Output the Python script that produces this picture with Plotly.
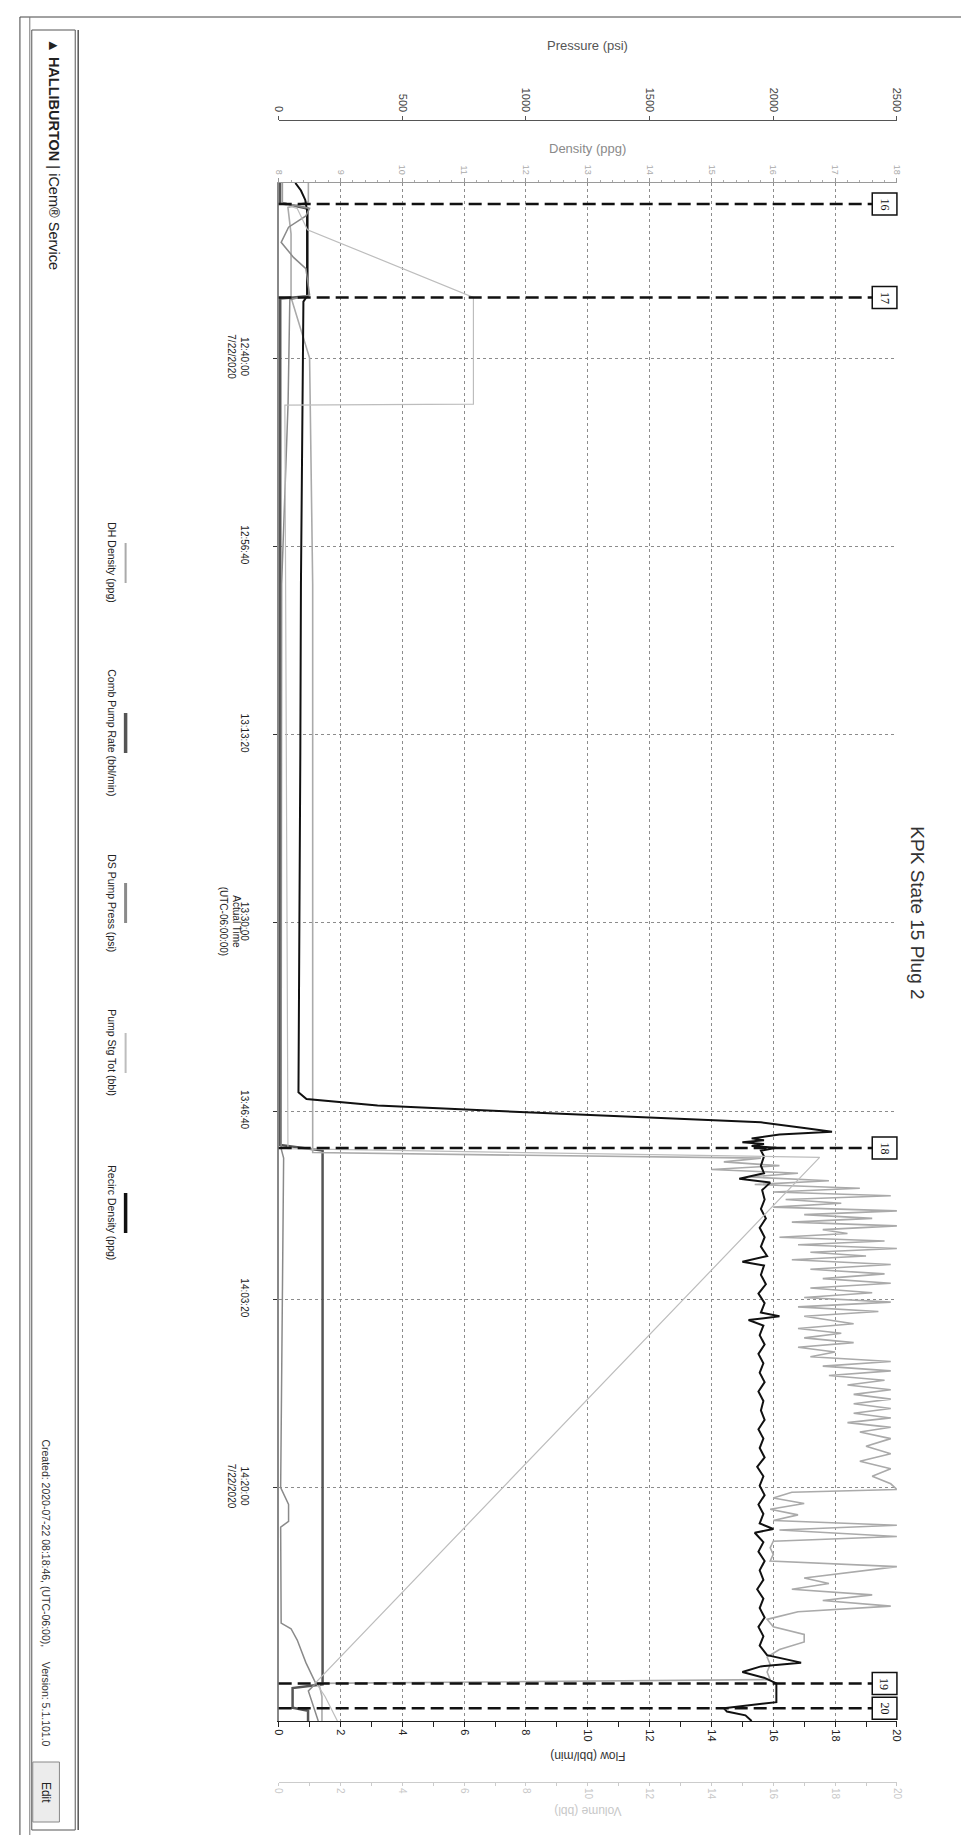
import plotly.graph_objects as go

W, H = 969, 1835
DATE = "2020-07-22 "

# ---------------- data ----------------
time_tick_vals = ["12:40:00", "12:56:40", "13:13:20", "13:30:00", "13:46:40", "14:03:20", "14:20:00"]
time_tick_text = ["12:40:00<br>7/22/2020", "12:56:40", "13:13:20", "13:30:00", "13:46:40", "14:03:20", "14:20:00<br>7/22/2020"]
time_start = "12:24:30"
time_end = "14:40:40"

pressure_ticks = [0, 500, 1000, 1500, 2000, 2500]
density_ticks = [8, 9, 10, 11, 12, 13, 14, 15, 16, 17, 18]
flow_ticks = [0, 2, 4, 6, 8, 10, 12, 14, 16, 18, 20]
volume_ticks = [0, 2, 4, 6, 8, 10, 12, 14, 16, 18, 20]

event_labels = ["16", "17", "18", "19", "20"]
event_times = ["12:26:22", "12:34:38", "13:49:56", "14:37:21", "14:39:32"]

# Recirc Density (ppg) - black
recirc_t = ["12:24:30", "12:25:10", "12:26:00", "12:27:00", "12:30:00", "12:34:30", "12:35:00", "12:45:00",
            "13:00:00", "13:15:00", "13:30:00", "13:40:00", "13:45:00", "13:45:36", "13:46:10", "13:46:45",
            "13:47:15", "13:47:40", "13:48:10", "13:48:30", "13:48:45", "13:48:55", "13:49:05", "13:49:15",
            "13:49:25", "13:49:35", "13:49:45", "13:49:55", "13:50:10", "13:50:40", "13:51:30", "13:52:10",
            "13:52:40", "13:53:00", "13:53:40", "13:54:30", "13:55:20", "13:56:10", "13:57:00", "13:57:50",
            "13:58:40", "13:59:30", "14:00:00", "14:00:20", "14:01:10", "14:02:00", "14:02:50", "14:03:40",
            "14:04:30", "14:04:50", "14:05:10", "14:05:40", "14:06:30", "14:07:20", "14:08:10", "14:09:00",
            "14:09:50", "14:10:40", "14:11:30", "14:12:20", "14:13:10", "14:14:00", "14:14:50", "14:15:40",
            "14:16:30", "14:17:20", "14:18:10", "14:19:00", "14:19:50", "14:20:40", "14:21:30", "14:22:20",
            "14:23:10", "14:23:40", "14:24:00", "14:24:50", "14:25:40", "14:26:30", "14:27:20", "14:28:10",
            "14:29:00", "14:29:50", "14:30:40", "14:31:30", "14:32:20", "14:33:10", "14:34:00", "14:34:50",
            "14:35:30", "14:35:50", "14:36:20", "14:36:50", "14:37:20", "14:38:00", "14:39:00", "14:39:32",
            "14:39:50", "14:40:10", "14:40:40"]
recirc_v = [8.27, 8.36, 8.43, 8.46, 8.46, 8.46, 8.40, 8.38,
            8.36, 8.35, 8.33, 8.32, 8.32, 8.45, 9.6, 11.9,
            14.1, 15.8, 16.5, 16.95, 16.1, 15.85, 15.65, 15.85,
            15.5, 15.85, 15.65, 16.05, 15.8, 15.85, 15.8, 15.85,
            15.45, 15.95, 15.82, 15.86, 15.8, 15.88, 15.78, 15.86,
            15.8, 15.9, 15.5, 15.85, 15.8, 15.88, 15.76, 15.86,
            15.8, 16.1, 15.6, 15.84, 15.78, 15.86, 15.76, 15.84,
            15.78, 15.86, 15.76, 15.84, 15.8, 15.86, 15.76, 15.84,
            15.78, 15.86, 15.74, 15.84, 15.78, 15.86, 15.76, 15.84,
            15.78, 16.0, 15.7, 15.84, 15.76, 15.86, 15.78, 15.84,
            15.74, 15.84, 15.78, 15.86, 15.76, 15.84, 15.78, 15.9,
            16.45, 15.8, 15.5, 15.85, 16.05, 16.05, 16.05, 15.2,
            15.25, 15.55, 15.65]

# DH Density (ppg) - light gray
dh_t = ["12:24:30", "12:26:10", "12:26:40", "12:29:00", "12:34:38", "12:40:00", "13:00:00", "13:50:20",
        "13:50:35", "13:50:50", "13:51:10", "13:51:30", "13:51:50", "13:52:10", "13:52:30", "13:52:50",
        "13:53:10", "13:53:30", "13:53:50", "13:54:10", "13:54:30", "13:54:50", "13:55:10", "13:55:30",
        "13:55:50", "13:56:10", "13:56:30", "13:56:50", "13:57:10", "13:57:30", "13:57:50", "13:58:10",
        "13:58:30", "13:58:50", "13:59:10", "13:59:30", "13:59:50", "14:00:15", "14:00:40", "14:01:05",
        "14:01:30", "14:01:55", "14:02:20", "14:02:45", "14:03:10", "14:03:35", "14:04:00", "14:04:25",
        "14:04:50", "14:05:30", "14:05:55", "14:06:20", "14:06:45", "14:07:10", "14:07:35", "14:08:00",
        "14:08:25", "14:08:50", "14:09:15", "14:09:40", "14:10:05", "14:10:30", "14:10:55", "14:11:20",
        "14:11:45", "14:12:10", "14:12:35", "14:13:00", "14:13:25", "14:13:50", "14:14:15", "14:14:40",
        "14:15:05", "14:15:40", "14:16:20", "14:17:00", "14:17:40", "14:18:20", "14:19:00", "14:19:40",
        "14:20:10", "14:20:25", "14:20:55", "14:21:25", "14:21:55", "14:22:25", "14:22:55", "14:23:20",
        "14:23:45", "14:24:20", "14:24:45", "14:25:20", "14:25:55", "14:26:30", "14:27:00", "14:27:30",
        "14:28:00", "14:28:30", "14:29:00", "14:29:30", "14:30:00", "14:30:30", "14:31:00", "14:31:40",
        "14:32:20", "14:33:00", "14:33:40", "14:34:20", "14:35:00", "14:35:40", "14:36:20", "14:37:00",
        "14:37:20", "14:38:30", "14:40:40"]
dh_v = [8.48, 8.48, 8.15, 8.2, 8.2, 8.5, 8.55, 8.55,
        12.0, 15.8, 15.2, 16.1, 15.0, 16.4, 15.6, 16.9,
        15.7, 17.4, 16.0, 17.9, 16.2, 17.1, 16.0, 18.0,
        16.5, 17.6, 16.3, 18.0, 16.8, 17.2, 16.1, 17.8,
        16.4, 18.0, 16.6, 17.5, 16.3, 17.9, 16.6, 17.8,
        16.8, 17.9, 16.6, 17.6, 16.5, 17.9, 16.4, 17.7,
        16.5, 17.3, 16.4, 17.1, 16.5, 17.3, 16.4, 17.0,
        16.6, 17.9, 16.8, 17.9, 16.9, 17.8, 17.2, 17.9,
        17.3, 17.9, 17.3, 17.9, 17.3, 17.9, 17.2, 17.9,
        17.4, 17.9, 17.5, 17.9, 17.4, 17.9, 17.6, 17.9,
        18.0, 16.3, 16.0, 16.5, 15.95, 16.4, 16.0, 18.0,
        16.1, 18.0, 16.0, 15.95, 16.0, 15.95, 18.0, 17.2,
        16.5, 16.9, 16.3, 17.6, 16.8, 17.9, 16.4, 15.9,
        16.0, 16.5, 16.5, 16.1, 15.9, 15.95, 15.9, 15.95,
        8.65, 8.7, 8.7]

# Pump Stg Tot (bbl) - light gray, volume axis
stg_t = ["12:24:30", "12:26:22", "12:26:45", "12:28:38", "12:34:38", "12:44:05", "12:44:10", "13:50:00",
         "13:50:46", "14:37:16", "14:38:30", "14:40:40"]
stg_v = [0.1, 0.1, 0.6, 0.93, 6.3, 6.3, 0.2, 0.3,
         17.5, 1.2, 1.5, 1.9]

# DS Pump Press (psi) - gray, pressure axis
ds_t = ["12:24:30", "12:26:15", "12:26:45", "12:27:25", "12:28:25", "12:29:45", "12:31:05", "12:32:05",
        "12:34:25", "12:34:50", "12:44:00", "13:00:00", "13:50:00", "13:50:50", "14:20:00", "14:21:30",
        "14:23:00", "14:23:30", "14:32:00", "14:32:30", "14:33:30", "14:35:30", "14:37:20", "14:38:00",
        "14:40:40"]
ds_v = [15, 15, 125, 110, 40, 10, 60, 110,
        125, 45, 38, 12, 10, 20, 8, 40,
        40, 8, 10, 50, 75, 110, 150, 120,
        160]

# Comb Pump Rate (bbl/min) - dark gray, flow axis
rate_t = ["12:24:30", "12:26:15", "12:26:45", "12:34:32", "12:34:44", "13:49:40", "13:50:10", "14:37:25",
          "14:37:45", "14:39:30", "14:39:45", "14:40:40"]
rate_v = [0.05, 0.05, 0.93, 0.93, 0.05, 0.05, 1.42, 1.42,
          0.45, 0.45, 0.95, 0.95]

legend_names = ["DH Density (ppg)", "Comb Pump Rate (bbl/min)", "DS Pump Press (psi)",
                "Pump Stg Tot (bbl)", "Recirc Density (ppg)"]
legend_colors = ["#aaaaaa", "#555555", "#8a8a8a", "#bdbdbd", "#111111"]
legend_widths = [2, 3.5, 3, 2, 3.5]

# ---------------- helpers ----------------
def T(lst):
    return [DATE + t for t in lst]

def px(x):
    return x / W

def py(y):
    return 1 - y / H

X0, X1 = 268, 894
Y0, Y1 = 175, 1713
dom_x = [px(X0), px(X1)]
dom_y = [py(Y1), py(Y0)]

FONT = "Liberation Sans, Arial, sans-serif"

fig = go.Figure()

fig.add_trace(go.Scatter(x=stg_v, y=T(stg_t), xaxis="x4", yaxis="y", mode="lines",
                         line=dict(color=legend_colors[3], width=1.2), name=legend_names[3]))
fig.add_trace(go.Scatter(x=dh_v, y=T(dh_t), xaxis="x2", yaxis="y", mode="lines",
                         line=dict(color=legend_colors[0], width=1.6), name=legend_names[0]))
fig.add_trace(go.Scatter(x=ds_v, y=T(ds_t), xaxis="x3", yaxis="y", mode="lines",
                         line=dict(color=legend_colors[2], width=1.5), name=legend_names[2]))
fig.add_trace(go.Scatter(x=rate_v, y=T(rate_t), xaxis="x", yaxis="y", mode="lines",
                         line=dict(color=legend_colors[1], width=2.5), name=legend_names[1]))
fig.add_trace(go.Scatter(x=recirc_v, y=T(recirc_t), xaxis="x2", yaxis="y", mode="lines",
                         line=dict(color=legend_colors[4], width=2), name=legend_names[4]))

fig.update_layout(
    width=W, height=H,
    margin=dict(l=0, r=0, t=0, b=0),
    paper_bgcolor="white", plot_bgcolor="white",
    showlegend=False,
    font=dict(family=FONT, size=11, color="#333"),
    yaxis=dict(domain=dom_y, type="date", range=[DATE + time_end, DATE + time_start],
               tickvals=T(time_tick_vals), ticktext=time_tick_text, tickangle=90,
               showgrid=True, gridcolor="#8c8c8c", griddash="dot", gridwidth=1,
               ticks="outside", ticklen=4, tickcolor="#333", ticklabelstandoff=20,
               showline=True, linecolor="#888", linewidth=1.5, zeroline=False,
               tickfont=dict(size=10, color="#222", family=FONT)),
    xaxis=dict(domain=dom_x, range=[0, 20], anchor="y", side="bottom",
               tickvals=flow_ticks, tickangle=90,
               showline=True, linecolor="#222", linewidth=1.2,
               ticks="outside", ticklen=5, tickcolor="#222",
               minor=dict(dtick=1, ticks="outside", ticklen=5, tickcolor="#222"),
               showgrid=False, zeroline=False,
               tickfont=dict(size=11, color="#222", family=FONT)),
    xaxis2=dict(domain=dom_x, overlaying="x", anchor="y", side="top", range=[8, 18],
                tickvals=density_ticks, tickangle=90,
                showgrid=True, gridcolor="#8c8c8c", griddash="dot", gridwidth=1,
                showline=True, linecolor="#9a9a9a", linewidth=1,
                ticks="outside", ticklen=4, tickcolor="#999",
                minor=dict(dtick=0.2, ticks="outside", ticklen=2, tickcolor="#aaa"),
                zeroline=False,
                tickfont=dict(size=9, color="#aaaaaa", family=FONT)),
    xaxis3=dict(domain=dom_x, overlaying="x", anchor="free", position=py(112), side="top",
                range=[0, 2500], tickvals=pressure_ticks, tickangle=90,
                showline=True, linecolor="#555", linewidth=1,
                ticks="outside", ticklen=4, tickcolor="#555",
                showgrid=False, zeroline=False,
                tickfont=dict(size=11, color="#444", family=FONT)),
    xaxis4=dict(domain=dom_x, overlaying="x", anchor="free", position=py(1774), side="bottom",
                range=[0, 20], tickvals=volume_ticks, tickangle=90,
                showline=True, linecolor="#cccccc", linewidth=1,
                ticks="outside", ticklen=3, tickcolor="#ccc",
                minor=dict(dtick=1, ticks="outside", ticklen=3, tickcolor="#ccc"),
                showgrid=False, zeroline=False,
                tickfont=dict(size=10, color="#c8c8c8", family=FONT)),
)

shapes = []
annots = []

def note(x, y, text, size, color, angle=0, family=FONT, xref="paper", yref="paper"):
    annots.append(dict(xref=xref, yref=yref, x=x, y=y, text=text, textangle=angle,
                       showarrow=False, xanchor="center", yanchor="middle",
                       font=dict(size=size, color=color, family=family)))

# event lines and boxes
BOX_L = 869
for lbl, t in zip(event_labels, event_times):
    shapes.append(dict(type="line", xref="paper", yref="y", x0=px(X0), x1=px(BOX_L),
                       y0=DATE + t, y1=DATE + t,
                       line=dict(color="#111", width=2.5, dash="13px,6px")))
    shapes.append(dict(type="rect", xref="paper", yref="y", ysizemode="pixel", yanchor=DATE + t,
                       x0=px(BOX_L), x1=px(X1), y0=-11, y1=11,
                       fillcolor="white", line=dict(color="#111", width=1.5)))
    note(px((BOX_L + X1) / 2), DATE + t, lbl, 12, "#111", 90,
         "Liberation Serif, Times New Roman, serif", yref="y")

# axis titles
note(px(581), py(38), "Pressure (psi)", 13, "#555")
note(px(581), py(140), "Density (ppg)", 13, "#8a8a8a")
note(px(581), py(1748), "Flow (bbl/min)", 12, "#333", 180)
note(px(581), py(1803), "Volume (bbl)", 12, "#c8c8c8", 180)
note(px(219), py(913), "Actual Time<br>(UTC-06:00:00)", 10, "#222", 90)

# title
note(px(915), py(905), "KPK State 15 Plug 2", 19, "#333", 90)

# legend (rotated)
legend_centers = [555, 725, 895, 1045, 1205]
for name, col, lw, cy in zip(legend_names, legend_colors, legend_widths, legend_centers):
    note(px(99), py(cy), name, 10.5, "#222", 90)
    shapes.append(dict(type="line", xref="paper", yref="paper", x0=px(113), x1=px(113),
                       y0=py(cy - 20), y1=py(cy + 20), line=dict(color=col, width=lw)))

# page frame
shapes.append(dict(type="rect", xref="paper", yref="paper", x0=px(6), x1=px(962), y0=py(1831), y1=py(9),
                   line=dict(color="#444", width=1)))
shapes.append(dict(type="line", xref="paper", yref="paper", x0=px(16), x1=px(16), y0=py(1831), y1=py(9),
                   line=dict(color="#777", width=1)))
shapes.append(dict(type="rect", xref="paper", yref="paper", x0=px(18), x1=px(62), y0=py(1822), y1=py(22),
                   line=dict(color="#555", width=1)))
shapes.append(dict(type="line", xref="paper", yref="paper", x0=px(65), x1=px(65), y0=py(1822), y1=py(22),
                   line=dict(color="#555", width=1.5)))

# logo
note(px(40), py(146), "\u25b2 <b>HALLIBURTON</b> | iCem\u00ae Service", 14.5, "#222", 90)

# created text and edit button
note(px(32), py(1585),
     "Created: 2020-07-22 08:18:46, (UTC-06:00),\u00a0\u00a0\u00a0\u00a0\u00a0Version: 5.1.101.0",
     10.5, "#333", 90)
shapes.append(dict(type="rect", xref="paper", yref="paper", x0=px(19), x1=px(46), y0=py(1814), y1=py(1754),
                   fillcolor="#ececec", line=dict(color="#888", width=1)))
note(px(32.5), py(1784), "Edit", 12, "#222", 90)

fig.update_layout(shapes=shapes, annotations=annots)

fig.write_html("out.html")
